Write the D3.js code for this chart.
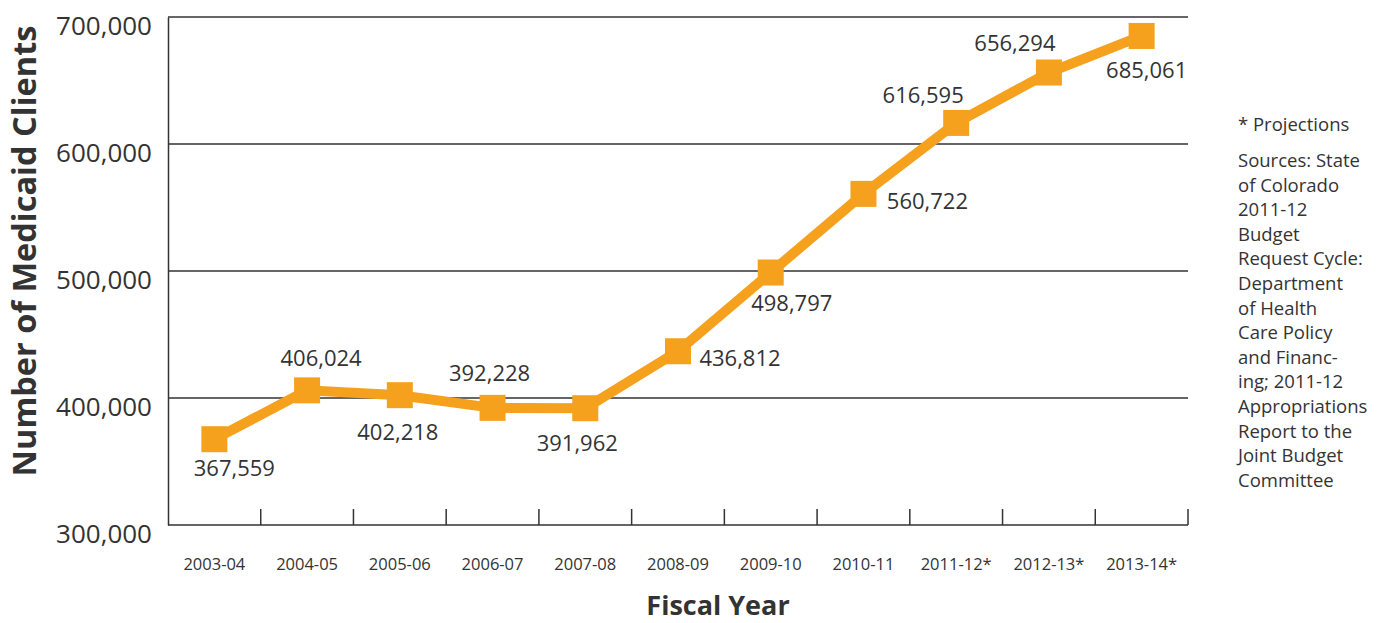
<!DOCTYPE html>
<html>
<head>
<meta charset="utf-8">
<script src="https://cdn.jsdelivr.net/npm/d3@7"></script>
<style>
  body { margin: 0; background: #fff; }
  svg { display: block; }
  svg text { font-family: "Open Sans", "Noto Sans", sans-serif; }
</style>
</head>
<body>
<div id="rootDiv"></div>
<script>
// Data
const years = ['2003-04', '2004-05', '2005-06', '2006-07', '2007-08', '2008-09', '2009-10', '2010-11', '2011-12*', '2012-13*', '2013-14*']
const clients = [367559, 406024, 402218, 392228, 391962, 436812, 498797, 560722, 616595, 656294, 685061]
const yTicks = [300000, 400000, 500000, 600000, 700000]
const noteLines = ['Sources: State', 'of Colorado', '2011-12', 'Budget', 'Request Cycle:', 'Department', 'of Health', 'Care Policy', 'and Financ-', 'ing; 2011-12', 'Appropriations', 'Report to the', 'Joint Budget', 'Committee']

// where each value label sits relative to its point
const labelOffsets = [[20, 37], [14, -24], [-2, 45], [-3, -27], [-8, 43], [62, 15], [21, 38], [64, 15], [-33, -20], [-34, -22], [5, 42]]

const W = 1385, H = 623
const margin = { top: 17, right: 197, bottom: 98, left: 168 }
const width = W - margin.left - margin.right
const height = H - margin.top - margin.bottom

const orange = '#F5A11E'
const ink = '#333333'

const x = d3.scaleBand()
    .domain(years)
    .range([0, width])
    .paddingInner(0)
    .paddingOuter(0)

const y = d3.scaleLinear()
    .domain([300000, 700000])
    .range([height, 0])

const svgBase = d3.select('#rootDiv')
    .append('svg')
    .attr('width', W)
    .attr('height', H)

const svg = svgBase.append('g').attr('transform', `translate(${margin.left},${margin.top})`)

// gridlines
svg.selectAll('line.grid')
    .data(yTicks.slice(1))
    .enter()
    .append('line')
    .attr('class', 'grid')
    .attr('x1', 0)
    .attr('x2', width)
    .attr('y1', d => y(d))
    .attr('y2', d => y(d))
    .attr('stroke', ink)
    .attr('stroke-width', 1.5)

// y axis (labels sit a little under their gridline)
const yAxis = svg.append('g')
    .call(d3.axisLeft(y).tickValues(yTicks).tickSize(0).tickPadding(16).tickFormat(d3.format(',')))
yAxis.attr('font-family', null).attr('font-size', null)
yAxis.select('.domain').attr('stroke', ink).attr('stroke-width', 1.5)
yAxis.selectAll('text')
    .attr('fill', ink)
    .style('font-size', '26px')
    .attr('y', 9)
    .attr('dy', '0.34em')

// x axis: baseline + ticks at band edges pointing up
const xAxis = svg.append('g').attr('transform', `translate(0,${height})`)
xAxis.append('line')
    .attr('x1', 0).attr('x2', width)
    .attr('stroke', ink).attr('stroke-width', 1.5)
xAxis.selectAll('line.tick')
    .data(years)
    .enter()
    .append('line')
    .attr('class', 'tick')
    .attr('x1', d => x(d) + x.bandwidth())
    .attr('x2', d => x(d) + x.bandwidth())
    .attr('y1', 0)
    .attr('y2', -16)
    .attr('stroke', ink)
    .attr('stroke-width', 1.5)
xAxis.selectAll('text')
    .data(years)
    .enter()
    .append('text')
    .attr('x', d => x(d) + x.bandwidth() / 2)
    .attr('y', 45)
    .attr('text-anchor', 'middle')
    .attr('fill', ink)
    .style('font-size', '16.5px')
    .text(d => d)

// line
const pts = years.map((d, i) => [x(d) + x.bandwidth() / 2, y(clients[i])])
svg.append('path')
    .datum(pts)
    .attr('d', d3.line())
    .attr('fill', 'none')
    .attr('stroke', orange)
    .attr('stroke-width', 10)
    .attr('stroke-linejoin', 'miter')

const sq = 26
svg.selectAll('rect.marker')
    .data(pts)
    .enter()
    .append('rect')
    .attr('class', 'marker')
    .attr('x', d => d[0] - sq / 2)
    .attr('y', d => d[1] - sq / 2)
    .attr('width', sq)
    .attr('height', sq)
    .attr('fill', orange)

// value labels
svg.selectAll('text.val')
    .data(clients)
    .enter()
    .append('text')
    .attr('class', 'val')
    .attr('x', (d, i) => pts[i][0] + labelOffsets[i][0])
    .attr('y', (d, i) => pts[i][1] + labelOffsets[i][1])
    .attr('text-anchor', 'middle')
    .attr('fill', ink)
    .style('font-size', '22px')
    .text(d => d3.format(',')(d))

// axis titles
svgBase.append('text')
    .attr('transform', `translate(36,251) rotate(-90)`)
    .attr('text-anchor', 'middle')
    .attr('fill', ink)
    .style('font-size', '32.5px')
    .style('font-weight', 'bold')
    .text('Number of Medicaid Clients')

svgBase.append('text')
    .attr('x', 718)
    .attr('y', 615)
    .attr('text-anchor', 'middle')
    .attr('fill', ink)
    .style('font-size', '27px')
    .style('font-weight', 'bold')
    .text('Fiscal Year')

// side note
const note = svgBase.append('g').attr('transform', 'translate(1238,0)')
note.append('text')
    .attr('y', 131)
    .attr('fill', ink)
    .style('font-size', '18.5px')
    .text('* Projections')
note.selectAll('text.src')
    .data(noteLines)
    .enter()
    .append('text')
    .attr('class', 'src')
    .attr('y', (d, i) => 167 + i * 24.6)
    .attr('fill', ink)
    .style('font-size', '18.5px')
    .text(d => d)
</script>
</body>
</html>
